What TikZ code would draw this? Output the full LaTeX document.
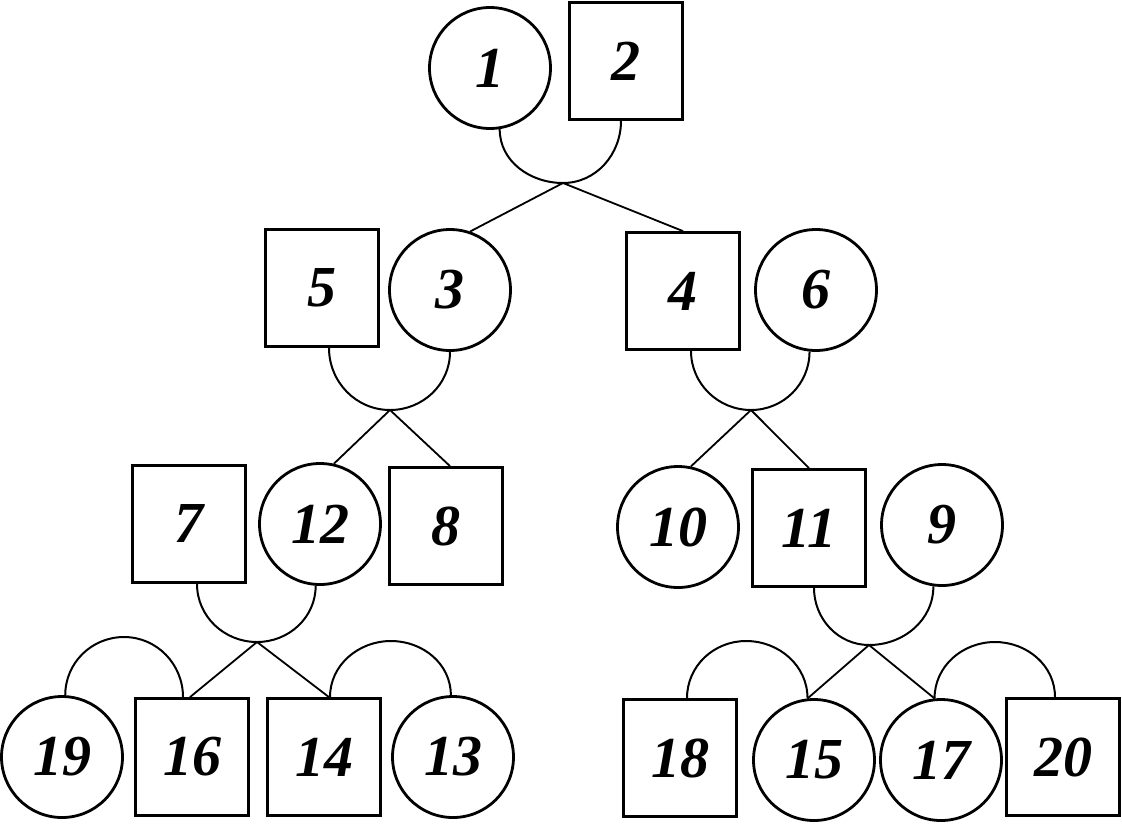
\documentclass[tikz,border=0pt]{standalone}
\usepackage{fontspec}
\newfontfamily\digitfont{Liberation Serif}
\begin{document}
\begin{tikzpicture}[x=1pt,y=1pt,
  person/.style={draw=black,line width=2.8pt,inner sep=0pt,font=\digitfont\fontsize{58}{58}\selectfont\bfseries\itshape},
  fem/.style={person,circle,minimum size=121pt},
  mal/.style={person,rectangle,minimum width=113pt,minimum height=117pt},
  marriage/.style={draw=black,line width=2pt},
  descent/.style={draw=black,line width=1.8pt}]
\useasboundingbox (0,0) rectangle (1122,-823);
% row 1
\node[fem] (n1) at (490,-68) {1};
\node[mal] (n2) at (626,-61) {2};
% row 2
\node[mal] (n5) at (322,-288) {5};
\node[fem] (n3) at (450,-290) {3};
\node[mal] (n4) at (683,-291) {4};
\node[fem] (n6) at (816,-290) {6};
% row 3
\node[mal] (n7) at (189,-524) {7};
\node[fem] (n12) at (320,-524) {12};
\node[mal] (n8) at (446,-526) {8};
\node[fem] (n10) at (678,-527) {10};
\node[mal] (n11) at (809,-528) {11};
\node[fem] (n9) at (942,-525) {9};
% row 4
\node[fem] (n19) at (62,-757) {19};
\node[mal] (n16) at (192,-757) {16};
\node[mal] (n14) at (324,-757) {14};
\node[fem] (n13) at (453,-757) {13};
\node[mal] (n18) at (680,-758) {18};
\node[fem] (n15) at (814,-760) {15};
\node[fem] (n17) at (941,-760) {17};
\node[mal] (n20) at (1063,-757) {20};
% junctions
\coordinate (j1) at (563,-183);
\coordinate (j2) at (390,-410);
\coordinate (j3) at (751,-410);
\coordinate (j4) at (257,-642);
\coordinate (j5) at (869,-645);
\coordinate (k1) at (124,-637);
\coordinate (k2) at (391,-641);
\coordinate (k3) at (746,-641);
\coordinate (k4) at (995,-642);
% marriage arcs (below couples)
\draw[marriage] (n1.-81) to[out=-90,in=180] (j1) to[out=0,in=-90] ([xshift=-5pt]n2.south);
\draw[marriage] ([xshift=7pt]n5.south) to[out=-90,in=180] (j2) to[out=0,in=-90] (n3.south);
\draw[marriage] ([xshift=8pt]n4.south) to[out=-90,in=180] (j3) to[out=0,in=-90] (n6.-96);
\draw[marriage] ([xshift=8pt]n7.south) to[out=-90,in=180] (j4) to[out=0,in=-90] (n12.-94);
\draw[marriage] ([xshift=5pt]n11.south) to[out=-90,in=180] (j5) to[out=0,in=-90] (n9.-98);
% marriage arcs (above couples)
\draw[marriage] (n19.87) to[out=90,in=180] (k1) to[out=0,in=90] ([xshift=-9pt]n16.north);
\draw[marriage] ([xshift=6pt]n14.north) to[out=90,in=180] (k2) to[out=0,in=90] (n13.92);
\draw[marriage] ([xshift=7pt]n18.north) to[out=90,in=180] (k3) to[out=0,in=90] (n15.96);
\draw[marriage] (n17.96) to[out=90,in=180] (k4) to[out=0,in=90] ([xshift=-8pt]n20.north);
% descent lines
\draw[descent] (j1) -- (n3.71);
\draw[descent] (j1) -- (n4.north);
\draw[descent] (j2) -- (n12.77);
\draw[descent] (j2) -- ([xshift=4pt]n8.north);
\draw[descent] (j3) -- (n10.78);
\draw[descent] (j3) -- (n11.north);
\draw[descent] (j4) -- ([xshift=-2pt]n16.north);
\draw[descent] (j4) -- ([xshift=5pt]n14.north);
\draw[descent] (j5) -- (n15.96);
\draw[descent] (j5) -- (n17.96);
\end{tikzpicture}
\end{document}
